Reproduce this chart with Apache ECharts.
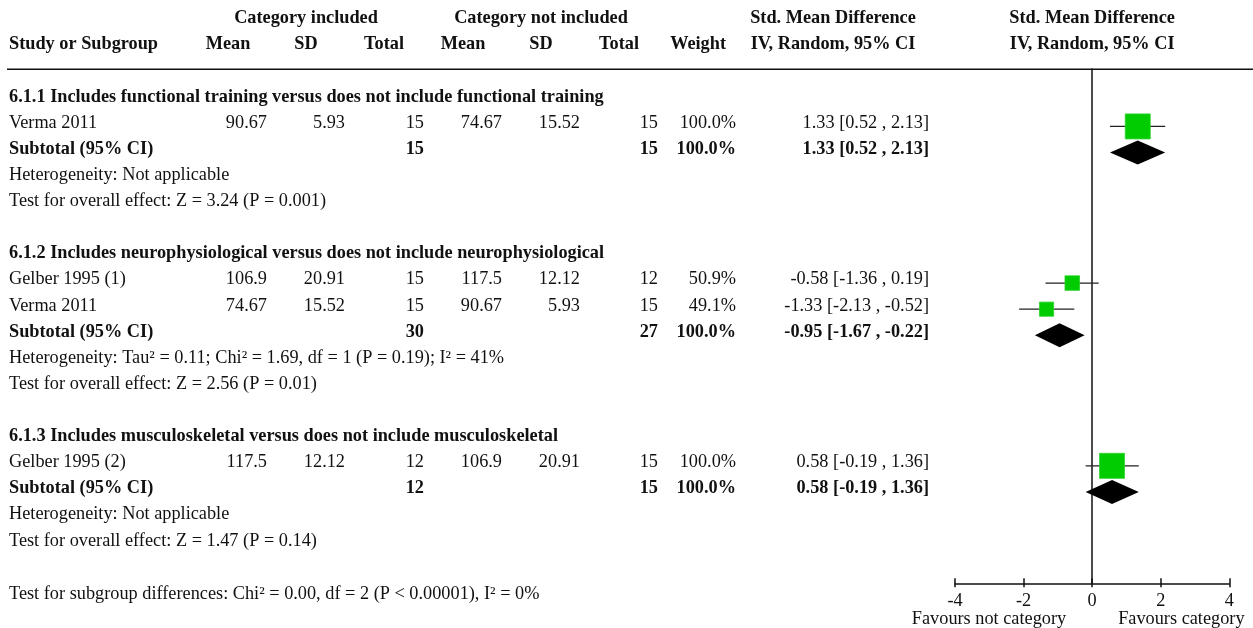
<!DOCTYPE html>
<html>
<head>
<meta charset="utf-8">
<title>Std. Mean Difference forest plot</title>
<script src="https://cdn.jsdelivr.net/npm/echarts@6/dist/echarts.min.js"></script>
<style>
  html, body { margin: 0; padding: 0; background: #ffffff; }
  #chart { width: 1253px; height: 628px; }
</style>
</head>
<body>
<div id="chart"></div>
<script>
// ---- data ----
const subgroupTitles = [
  '6.1.1 Includes functional training versus does not include functional training',
  '6.1.2 Includes neurophysiological versus does not include neurophysiological',
  '6.1.3 Includes musculoskeletal versus does not include musculoskeletal'
];
const studyNames = ['Verma 2011', 'Gelber 1995 (1)', 'Verma 2011', 'Gelber 1995 (2)'];
const studyGroup = [0, 1, 1, 2];
const includedMean = [90.67, 106.9, 74.67, 117.5];
const includedSD = [5.93, 20.91, 15.52, 12.12];
const includedTotal = [15, 15, 15, 12];
const notIncludedMean = [74.67, 117.5, 90.67, 106.9];
const notIncludedSD = [15.52, 12.12, 5.93, 20.91];
const notIncludedTotal = [15, 12, 15, 15];
const studyWeight = [100.0, 50.9, 49.1, 100.0];
const studySMD = [1.33, -0.58, -1.33, 0.58];
const studyLower = [0.52, -1.36, -2.13, -0.19];
const studyUpper = [2.13, 0.19, -0.52, 1.36];

const subtotalIncluded = [15, 30, 12];
const subtotalNotIncluded = [15, 27, 15];
const subtotalWeight = [100.0, 100.0, 100.0];
const subtotalSMD = [1.33, -0.95, 0.58];
const subtotalLower = [0.52, -1.67, -0.19];
const subtotalUpper = [2.13, -0.22, 1.36];
const heterogeneity = [
  'Not applicable',
  'Tau\u00b2 = 0.11; Chi\u00b2 = 1.69, df = 1 (P = 0.19); I\u00b2 = 41%',
  'Not applicable'
];
const overallEffect = ['Z = 3.24 (P = 0.001)', 'Z = 2.56 (P = 0.01)', 'Z = 1.47 (P = 0.14)'];
const subgroupDifferences = 'Chi\u00b2 = 0.00, df = 2 (P < 0.00001), I\u00b2 = 0%';

const xTicks = [-4, -2, 0, 2, 4];
const favoursLeft = 'Favours not category';
const favoursRight = 'Favours category';

// ---- layout ----
const FONT = '"Liberation Serif", "Times New Roman", serif';
const FS = 18.3;
const INK = '#111111';
const GREEN = '#00cc00';
const ROW_MIN = -1.2, ROW_MAX = 18.5;   // row index range of the plot panel
const TEXT_LIFT = 3.4;                  // table text sits slightly above the marker line

// table column anchors (pixels) and alignment
const COL = {
  name:   [9,   'left'],
  incM:   [267, 'right'],
  incSD:  [345, 'right'],
  incN:   [424, 'right'],
  notM:   [502, 'right'],
  notSD:  [580, 'right'],
  notN:   [658, 'right'],
  weight: [736, 'right'],
  ci:     [929, 'right']
};

function fmtCI(m, lo, hi) {
  return m.toFixed(2) + ' [' + lo.toFixed(2) + ' , ' + hi.toFixed(2) + ']';
}
function cell(col, text, bold) {
  return { x: COL[col][0], align: COL[col][1], text: String(text), bold: !!bold };
}

// ---- build table rows ----
const tableRows = [];
// header lines
tableRows.push({ row: -3, cells: [
  { x: 306, align: 'center', text: 'Category included', bold: true },
  { x: 541, align: 'center', text: 'Category not included', bold: true },
  { x: 833, align: 'center', text: 'Std. Mean Difference', bold: true },
  { zero: 0, align: 'center', text: 'Std. Mean Difference', bold: true }
]});
tableRows.push({ row: -2, cells: [
  { x: 9, align: 'left', text: 'Study or Subgroup', bold: true },
  { x: 228, align: 'center', text: 'Mean', bold: true },
  { x: 306, align: 'center', text: 'SD', bold: true },
  { x: 404, align: 'right', text: 'Total', bold: true },
  { x: 463, align: 'center', text: 'Mean', bold: true },
  { x: 541, align: 'center', text: 'SD', bold: true },
  { x: 639, align: 'right', text: 'Total', bold: true },
  { x: 726, align: 'right', text: 'Weight', bold: true },
  { x: 833, align: 'center', text: 'IV, Random, 95% CI', bold: true },
  { zero: 0, align: 'center', text: 'IV, Random, 95% CI', bold: true }
]});

const studyRow = [];
const subtotalRow = [];
let r = 0;
subgroupTitles.forEach((title, g) => {
  tableRows.push({ row: r++, cells: [cell('name', title, true)] });
  studyGroup.forEach((sg, s) => {
    if (sg !== g) return;
    studyRow[s] = r;
    tableRows.push({ row: r++, cells: [
      cell('name', studyNames[s]),
      cell('incM', includedMean[s]),
      cell('incSD', includedSD[s]),
      cell('incN', includedTotal[s]),
      cell('notM', notIncludedMean[s]),
      cell('notSD', notIncludedSD[s]),
      cell('notN', notIncludedTotal[s]),
      cell('weight', studyWeight[s].toFixed(1) + '%'),
      cell('ci', fmtCI(studySMD[s], studyLower[s], studyUpper[s]))
    ]});
  });
  subtotalRow[g] = r;
  tableRows.push({ row: r++, cells: [
    cell('name', 'Subtotal (95% CI)', true),
    cell('incN', subtotalIncluded[g], true),
    cell('notN', subtotalNotIncluded[g], true),
    cell('weight', subtotalWeight[g].toFixed(1) + '%', true),
    cell('ci', fmtCI(subtotalSMD[g], subtotalLower[g], subtotalUpper[g]), true)
  ]});
  tableRows.push({ row: r++, cells: [cell('name', 'Heterogeneity: ' + heterogeneity[g])] });
  tableRows.push({ row: r++, cells: [cell('name', 'Test for overall effect: ' + overallEffect[g])] });
  r++; // spacer
});
tableRows.push({ row: r + 0.05, cells: [cell('name', 'Test for subgroup differences: ' + subgroupDifferences)] });
tableRows.push({ row: r + 1, cells: [
  { zero: -26, align: 'right', text: favoursLeft, bold: false },
  { zero: 26, align: 'left', text: favoursRight, bold: false }
]});

const studyData = studyNames.map((_, s) =>
  [studyLower[s], studyUpper[s], studySMD[s], studyRow[s], studyWeight[s]]);
const subtotalData = subgroupTitles.map((_, g) =>
  [subtotalLower[g], subtotalUpper[g], subtotalSMD[g], subtotalRow[g]]);

// ---- chart ----
const chart = echarts.init(document.getElementById('chart'), null, { renderer: 'canvas' });

const axisCommon = {
  type: 'value', min: xTicks[0], max: xTicks[xTicks.length - 1],
  interval: xTicks[1] - xTicks[0], splitLine: { show: false }
};

chart.setOption({
  animation: false,
  backgroundColor: '#ffffff',
  grid: { left: 955, width: 274.3, top: 69, height: 514.3 },
  xAxis: [
    Object.assign({}, axisCommon, {
      position: 'bottom',
      axisLine: { show: true, onZero: false, lineStyle: { color: INK, width: 1.5 } },
      axisTick: { show: true, inside: false, length: 4, lineStyle: { color: INK, width: 1.5 } },
      axisLabel: { show: true, color: INK, fontFamily: FONT, fontSize: FS, margin: 8.5 }
    }),
    // upward half of the tick marks, laid onto the same baseline
    Object.assign({}, axisCommon, {
      position: 'top', offset: -514.3,
      axisLine: { show: false, onZero: false },
      axisTick: { show: true, inside: false, length: 5, lineStyle: { color: INK, width: 1.5 } },
      axisLabel: { show: false }
    })
  ],
  yAxis: {
    type: 'value', inverse: true, min: ROW_MIN, max: ROW_MAX,
    axisLine: { show: true, onZero: true, lineStyle: { color: INK, width: 1.5 } },
    axisTick: { show: false }, axisLabel: { show: false }, splitLine: { show: false }
  },
  graphic: [{
    type: 'line', silent: true,
    shape: { x1: 7, y1: 69.3, x2: 1253, y2: 69.3 },
    style: { stroke: INK, lineWidth: 1.5 }
  }],
  series: [
    {
      name: 'table', type: 'custom', clip: false, silent: true,
      data: tableRows.map(t => [0, t.row]),
      encode: { x: 0, y: 1 },
      renderItem: function (params, api) {
        const t = tableRows[params.dataIndex];
        const p = api.coord([0, t.row]);
        const y = p[1] - TEXT_LIFT;
        return {
          type: 'group',
          children: t.cells.map(c => ({
            type: 'text',
            x: c.zero !== undefined ? p[0] + c.zero : c.x,
            y: y,
            style: {
              text: c.text, fill: INK,
              font: (c.bold ? 'bold ' : '') + FS + 'px ' + FONT,
              textAlign: c.align, textVerticalAlign: 'middle'
            }
          }))
        };
      }
    },
    {
      name: 'studies', type: 'custom', clip: false, silent: true,
      data: studyData,
      encode: { x: [0, 1, 2], y: 3 },
      renderItem: function (params, api) {
        const row = api.value(3);
        const lo = api.coord([api.value(0), row]);
        const hi = api.coord([api.value(1), row]);
        const c = api.coord([api.value(2), row]);
        const size = 25 * Math.pow(api.value(4) / 100, 0.8);
        return {
          type: 'group',
          children: [
            { type: 'line', shape: { x1: lo[0], y1: lo[1], x2: hi[0], y2: hi[1] },
              style: { stroke: '#222222', lineWidth: 1.3 } },
            { type: 'rect', shape: { x: c[0] - size / 2, y: c[1] - size / 2, width: size, height: size },
              style: { fill: GREEN, stroke: '#2ad42a', lineWidth: 0.8 } }
          ]
        };
      }
    },
    {
      name: 'subtotals', type: 'custom', clip: false, silent: true,
      data: subtotalData,
      encode: { x: [0, 1, 2], y: 3 },
      renderItem: function (params, api) {
        const row = api.value(3);
        const lo = api.coord([api.value(0), row]);
        const hi = api.coord([api.value(1), row]);
        const c = api.coord([api.value(2), row]);
        const half = 12;
        return {
          type: 'polygon',
          shape: { points: [[lo[0], lo[1]], [c[0], c[1] - half], [hi[0], hi[1]], [c[0], c[1] + half]] },
          style: { fill: '#000000' }
        };
      }
    }
  ]
});
</script>
</body>
</html>
